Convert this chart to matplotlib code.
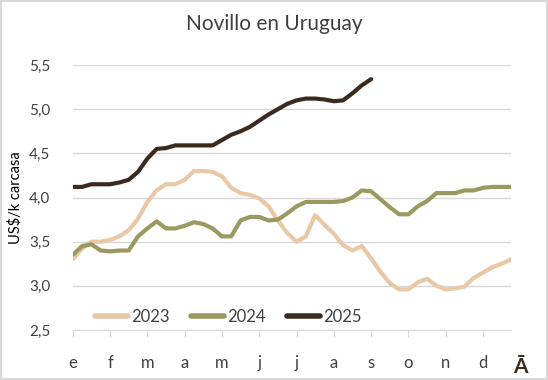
import matplotlib.pyplot as plt
import numpy as np

plt.rcParams['font.family'] = ['Lato', 'DejaVu Sans']

# Data (4 points per month, weekly-ish)
months = ['e', 'f', 'm', 'a', 'm', 'j', 'j', 'a', 's', 'o', 'n', 'd']
y2023 = [3.30, 3.42, 3.50, 3.50, 3.52, 3.56, 3.63, 3.76, 3.95, 4.08, 4.15, 4.15,
         4.20, 4.30, 4.30, 4.29, 4.24, 4.11, 4.05, 4.03, 3.99, 3.90, 3.74, 3.60,
         3.50, 3.56, 3.80, 3.69, 3.59, 3.46, 3.40, 3.45, 3.31, 3.16, 3.03, 2.96,
         2.96, 3.04, 3.08, 3.00, 2.96, 2.97, 2.99, 3.09, 3.15, 3.21, 3.25, 3.30]
y2024 = [3.35, 3.45, 3.47, 3.40, 3.39, 3.40, 3.40, 3.56, 3.65, 3.73, 3.65, 3.65,
         3.68, 3.72, 3.70, 3.65, 3.56, 3.56, 3.74, 3.78, 3.78, 3.74, 3.75, 3.82,
         3.90, 3.95, 3.95, 3.95, 3.95, 3.96, 4.00, 4.08, 4.07, 3.98, 3.89, 3.81,
         3.81, 3.90, 3.96, 4.05, 4.05, 4.05, 4.08, 4.08, 4.11, 4.12, 4.12, 4.12]
y2025 = [4.12, 4.12, 4.15, 4.15, 4.15, 4.17, 4.20, 4.29, 4.44, 4.55, 4.56, 4.59,
         4.59, 4.59, 4.59, 4.59, 4.65, 4.71, 4.75, 4.80, 4.87, 4.94, 5.00, 5.06,
         5.10, 5.12, 5.12, 5.11, 5.09, 5.10, 5.18, 5.27, 5.34]

c23 = '#E8C8A6'
c24 = '#9A9A60'
c25 = '#3B2A1E'
grid_c = '#D9D9D9'
text_c = '#404040'

fig = plt.figure(figsize=(5.48, 3.80), dpi=100)
ax = fig.add_axes([0.1327, 0.1316, 0.7998, 0.6973])

ax.plot(np.arange(len(y2023)), y2023, color=c23, lw=3, label='2023', solid_capstyle='round')
ax.plot(np.arange(len(y2024)), y2024, color=c24, lw=3, label='2024', solid_capstyle='round')
ax.plot(np.arange(len(y2025)), y2025, color=c25, lw=3, label='2025', solid_capstyle='round')

ax.set_xlim(0, 47)
ax.set_ylim(2.5, 5.5)
ax.set_yticks(np.arange(2.5, 5.51, 0.5))
ax.set_yticklabels([f'{v:.1f}'.replace('.', ',') for v in np.arange(2.5, 5.51, 0.5)])
ax.set_xticks(np.arange(0, 48, 4))
ax.set_xticklabels(months)
ax.grid(axis='y', color=grid_c, lw=1)
ax.set_axisbelow(True)

for s in ['top', 'right', 'left']:
    ax.spines[s].set_visible(False)
ax.spines['bottom'].set_color(grid_c)
ax.tick_params(axis='y', length=0, pad=16, labelsize=11, labelcolor=text_c)
ax.tick_params(axis='x', length=5, color=grid_c, pad=13, labelsize=12, labelcolor=text_c)

# odd trailing label after the last month
ax.annotate('Ā', xy=(48, 2.5), xycoords='data', xytext=(0, -27), textcoords='offset points',
            ha='center', va='center', fontsize=15, fontweight='bold', color=c25,
            annotation_clip=False)

ax.set_ylabel('US$/k carcasa', fontsize=10.5, color='#000000', labelpad=5)
fig.text(0.5, 0.938, 'Novillo en Uruguay', ha='center', va='center', fontsize=15, color=text_c)

leg = ax.legend(loc='center left', bbox_to_anchor=(0.05, 0.05), ncol=3, frameon=False,
                fontsize=12, handlelength=2.0, handletextpad=0.2, columnspacing=1.25,
                labelcolor=text_c, borderaxespad=0, borderpad=0)
for h in leg.get_lines():
    h.set_linewidth(4)

# light border around chart
fig.patches.append(plt.Rectangle((0.002, 0.003), 0.996, 0.994, transform=fig.transFigure,
                                 fill=False, edgecolor='#D9D9D9', lw=1.5))

fig.savefig('out.png', dpi=100)
